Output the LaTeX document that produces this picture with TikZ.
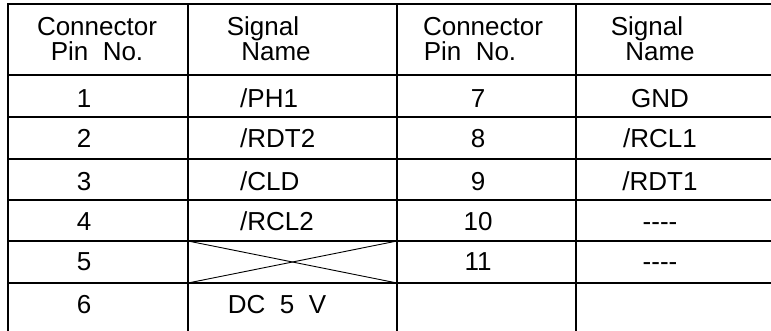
\documentclass[tikz,border=0pt]{standalone}
\usepackage{fontspec}
\setmainfont{Liberation Sans}

\begin{document}
\begin{tikzpicture}[x=1pt, y=-1pt,
  every node/.style={font=\fontsize{26}{26}\selectfont, inner sep=0pt, anchor=base},
  rule/.style={line width=2.5pt, line cap=rect}]
\useasboundingbox (0,0) rectangle (771,330);

% table rules
\foreach \x in {8, 188, 397, 576}
\draw[rule] (\x,4) -- (\x,330);
\foreach \y in {4, 75, 117, 159, 200, 241, 283}
\draw[rule] (8,\y) -- (771,\y);
% no signal on pin 5
\draw[line width=0.9pt] (188,241) -- (397,283);
\draw[line width=0.9pt] (188,283) -- (397,241);

% headings
\node (conL) at (97,35) {Connector};
\node (pinL) at (97,60) {Pin\ \ No.};
\node (sigL) at (263,35) {Signal};
\node (namL) at (276,60) {Name};
\node (conR) at (483,35) {Connector};
\node (pinR) at (470,60) {Pin\ \ No.};
\node (sigR) at (647,35) {Signal};
\node (namR) at (660,60) {Name};

% left half
\foreach \pin/\sig/\y in {1/{/PH1}/107, 2/{/RDT2}/147, 3/{/CLD}/190, 4/{/RCL2}/230}
\node[anchor=base west] (s\pin) at (240,\y) {\sig};
\foreach \pin/\y in {1/107, 2/147, 3/190, 4/230, 5/270, 6/313}
\node (p\pin) at (84,\y) {\pin};
\node (s6) at (277,313) {DC\ \ 5\ \ V};

% right half
\foreach \pin/\sig/\y in {7/GND/107, 8/{/RCL1}/147, 9/{/RDT1}/190, 10/{-{}-{}-{}-}/230, 11/{-{}-{}-{}-}/270}
{
\node (p\pin) at (478,\y) {\pin};
\node (s\pin) at (660,\y) {\sig};
}
\end{tikzpicture}
\end{document}
